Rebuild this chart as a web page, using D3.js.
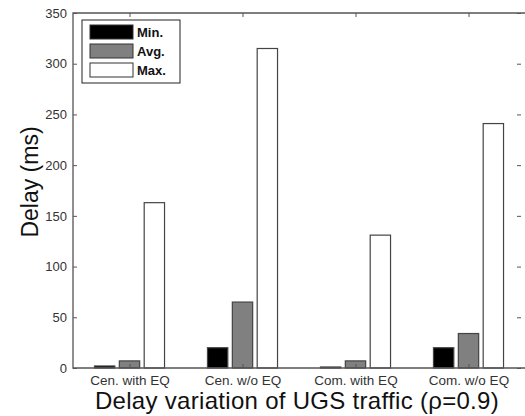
<!DOCTYPE html>
<html>
<head>
<meta charset="utf-8">
<script src="https://cdn.jsdelivr.net/npm/d3@7"></script>
<style>
  body { margin: 0; background: #fff; }
  svg { display: block; font-family: "Liberation Sans", Arial, sans-serif; }
</style>
</head>
<body>
<div id="chart"></div>
<script>
let categories = ['Cen. with EQ', 'Cen. w/o EQ', 'Com. with EQ', 'Com. w/o EQ'];
let minValues = [2, 20, 1, 20];
let avgValues = [7, 65, 7, 34];
let maxValues = [163, 315, 131, 241];
let seriesNames = ['Min.', 'Avg.', 'Max.'];
let seriesColors = ['#000000', '#808080', '#ffffff'];
let yTicks = [0, 50, 100, 150, 200, 250, 300, 350];

let chart_width = 525;
let chart_height = 416;
let plotLeft = 73, plotTop = 13, plotRight = 525, plotBottom = 368;

let series = [minValues, avgValues, maxValues];

let svg = d3.select('#chart')
    .append('svg')
    .attr('width', chart_width)
    .attr('height', chart_height);

// scales
let xScale = d3.scaleLinear()
    .domain([0.5, categories.length + 0.5])
    .range([plotLeft, plotRight]);

let yScale = d3.scaleLinear()
    .domain([0, 350])
    .range([plotBottom, plotTop]);

let groupStep = 0.22;
let barWidth = 0.18;

// bars
series.forEach(function(vals, s) {
    svg.append('g')
        .selectAll('rect')
        .data(vals)
        .enter()
        .append('rect')
        .attr('x', (d, i) => xScale(i + 1 + (s - 1) * groupStep - barWidth / 2))
        .attr('width', xScale(barWidth) - xScale(0))
        .attr('y', d => yScale(d))
        .attr('height', d => yScale(0) - yScale(d))
        .attr('fill', seriesColors[s])
        .attr('stroke', '#444')
        .attr('stroke-width', 1.2);
});

// axes lines (right side is cut off in the original)
let axisColor = '#555';
svg.append('path')
    .attr('d', 'M' + plotRight + ',' + plotTop + 'H' + plotLeft + 'V' + plotBottom + 'H' + plotRight)
    .attr('fill', 'none')
    .attr('stroke', axisColor)
    .attr('stroke-width', 1.3);

// left y axis
let yAxis = d3.axisLeft(yScale)
    .tickValues(yTicks)
    .tickSize(-4)
    .tickPadding(6);
let gy = svg.append('g')
    .attr('transform', 'translate(' + plotLeft + ',0)')
    .call(yAxis);
gy.select('.domain').remove();
gy.selectAll('line').attr('stroke', axisColor);
gy.selectAll('text')
    .attr('font-size', 13)
    .attr('fill', '#333');

// right ticks
let gyr = svg.append('g')
    .attr('transform', 'translate(' + (plotRight - 4) + ',0)')
    .call(d3.axisRight(yScale).tickValues(yTicks).tickSize(-4).tickFormat(''));
gyr.select('.domain').remove();
gyr.selectAll('line').attr('stroke', axisColor);

// bottom x axis
let xAxis = d3.axisBottom(xScale)
    .tickValues(d3.range(1, categories.length + 1))
    .tickFormat(d => categories[d - 1])
    .tickSize(-4)
    .tickPadding(7);
let gx = svg.append('g')
    .attr('transform', 'translate(0,' + plotBottom + ')')
    .call(xAxis);
gx.select('.domain').remove();
gx.selectAll('line').attr('stroke', axisColor);
gx.selectAll('text')
    .attr('font-size', 13.5)
    .attr('fill', '#333');

// top ticks
let gxt = svg.append('g')
    .attr('transform', 'translate(0,' + plotTop + ')')
    .call(d3.axisTop(xScale).tickValues(d3.range(1, categories.length + 1)).tickSize(-4).tickFormat(''));
gxt.select('.domain').remove();
gxt.selectAll('line').attr('stroke', axisColor);

// axis titles
svg.append('text')
    .attr('transform', 'translate(38,182) rotate(-90)')
    .attr('text-anchor', 'middle')
    .attr('font-size', 23)
    .attr('fill', '#111')
    .text('Delay (ms)');

svg.append('text')
    .attr('x', 297)
    .attr('y', 409)
    .attr('text-anchor', 'middle')
    .attr('font-size', 24)
    .attr('letter-spacing', 0.3)
    .attr('fill', '#111')
    .text('Delay variation of UGS traffic (\u03c1=0.9)');

// legend
let legend = svg.append('g').attr('transform', 'translate(82,20)');
legend.append('rect')
    .attr('width', 98)
    .attr('height', 63)
    .attr('fill', '#fff')
    .attr('stroke', '#222')
    .attr('stroke-width', 1);
seriesNames.forEach(function(name, i) {
    legend.append('rect')
        .attr('x', 8)
        .attr('y', 5 + i * 19)
        .attr('width', 43)
        .attr('height', 14)
        .attr('fill', seriesColors[i])
        .attr('stroke', '#333');
    legend.append('text')
        .attr('x', 55)
        .attr('y', 17 + i * 19)
        .attr('font-size', 13)
        .attr('font-weight', 'bold')
        .attr('fill', '#111')
        .text(name);
});
</script>
</body>
</html>
